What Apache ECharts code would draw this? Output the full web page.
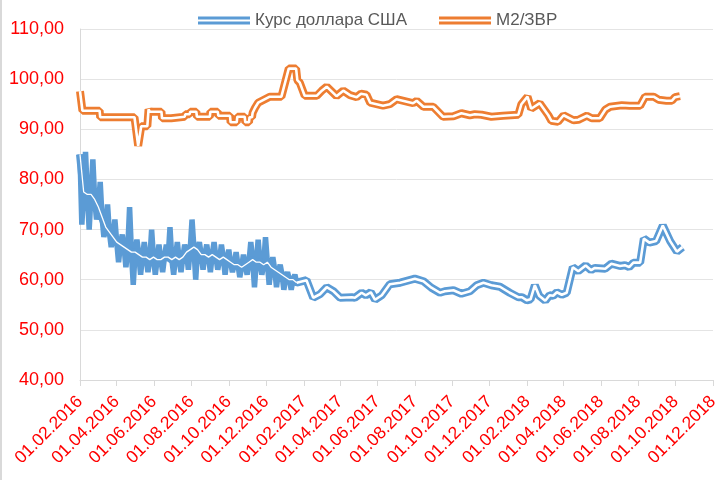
<!DOCTYPE html>
<html>
<head>
<meta charset="utf-8">
<script src="https://cdn.jsdelivr.net/npm/echarts@6/dist/echarts.min.js"></script>
<style>html,body{margin:0;padding:0;background:#fff}#c{width:716px;height:480px}</style>
</head>
<body>
<div id="c"></div>
<script>
// ---- DATA ----
const seriesNames = ['Курс доллара США', 'М2/ЗВР'];

// USD rate 2016: central readings (every 6 days)
const usdTrendDates2016 = [
'2016-02-01','2016-02-07','2016-02-13','2016-02-19','2016-02-25','2016-03-02','2016-03-08','2016-03-14','2016-03-20','2016-03-26',
'2016-04-01','2016-04-07','2016-04-13','2016-04-19','2016-04-25','2016-05-01','2016-05-07','2016-05-13','2016-05-19','2016-05-25',
'2016-05-31','2016-06-06','2016-06-12','2016-06-18','2016-06-24','2016-06-30','2016-07-06','2016-07-12','2016-07-18','2016-07-24',
'2016-07-30','2016-08-05','2016-08-11','2016-08-17','2016-08-23','2016-08-29','2016-09-04','2016-09-10','2016-09-16','2016-09-22',
'2016-09-28','2016-10-04','2016-10-10','2016-10-16','2016-10-22','2016-10-28','2016-11-03','2016-11-09','2016-11-15','2016-11-21',
'2016-11-27','2016-12-03','2016-12-09','2016-12-15','2016-12-21','2016-12-27','2017-01-02','2017-01-08','2017-01-14','2017-01-20'
];
const usdTrendValues2016 = [
85, 77.5, 77, 77, 76, 74.5, 72.5, 70.5, 69.5, 68.5,
67.5, 67, 66.5, 66, 65.5, 65.5, 65, 64.5, 64.5, 64,
64.5, 64, 64, 64.5, 64.5, 64, 64.5, 64, 64.5, 65.5,
66, 66.5, 66, 65, 65, 64.5, 65, 64.5, 64, 64.5,
64, 63.5, 63, 63, 62.5, 63, 63.5, 64, 63.5, 63.5,
63, 63.5, 62.5, 62, 61.5, 61, 60.5, 60, 60, 59.4
];
// USD rate 2016: in-between readings (the jagged outliers)
const usdSpikeDates2016 = [
'2016-02-04','2016-02-10','2016-02-16','2016-02-22','2016-02-28','2016-03-05','2016-03-11','2016-03-17','2016-03-23','2016-03-29',
'2016-04-04','2016-04-10','2016-04-16','2016-04-22','2016-04-28','2016-05-04','2016-05-10','2016-05-16','2016-05-22','2016-05-28',
'2016-06-03','2016-06-09','2016-06-15','2016-06-21','2016-06-27','2016-07-03','2016-07-09','2016-07-15','2016-07-21','2016-07-27',
'2016-08-02','2016-08-08','2016-08-14','2016-08-20','2016-08-26','2016-09-01','2016-09-07','2016-09-13','2016-09-19','2016-09-25',
'2016-10-01','2016-10-07','2016-10-13','2016-10-19','2016-10-25','2016-10-31','2016-11-06','2016-11-12','2016-11-18','2016-11-24',
'2016-11-30','2016-12-06','2016-12-12','2016-12-18','2016-12-24','2016-12-30','2017-01-05','2017-01-11','2017-01-17'
];
const usdSpikeValues2016 = [
71, 85.5, 70, 84, 72, 79.5, 68.5, 75, 66.5, 72,
63.5, 69, 62.5, 74.5, 59, 68, 61, 67.5, 61.5, 70,
61, 67, 61.5, 67, 70.5, 61, 67.5, 61.5, 67, 62,
72, 60, 67.5, 62, 67, 61.5, 67.5, 62, 67, 61,
66, 61.5, 65.5, 60.5, 65, 61, 67.5, 58.5, 68, 61,
68.5, 59, 64.5, 58.5, 63, 58, 61.5, 58, 61
];

// USD rate, 2017-2018
const usdDates1718 = [
'2017-02-05','2017-02-16','2017-02-27','2017-03-10','2017-03-21','2017-04-01','2017-04-20','2017-04-25','2017-05-06','2017-05-13',
'2017-05-21','2017-05-28','2017-06-08','2017-06-21','2017-07-08','2017-08-01','2017-08-15','2017-08-28','2017-09-11','2017-09-19',
'2017-10-03','2017-10-16','2017-10-30','2017-11-10','2017-11-21','2017-12-04','2017-12-18','2018-01-03','2018-01-17','2018-01-23',
'2018-01-31','2018-02-06','2018-02-13','2018-02-20','2018-03-02','2018-03-09','2018-03-15','2018-03-21','2018-03-29','2018-04-06',
'2018-04-16','2018-04-25','2018-05-07','2018-05-16','2018-05-22','2018-06-08','2018-06-18','2018-07-02','2018-07-10','2018-07-17',
'2018-07-24','2018-08-04','2018-08-10','2018-08-19','2018-08-30','2018-09-10','2018-09-22','2018-10-03','2018-10-12'
];
const usdValues1718 = [
59.9, 56.4, 57.1, 58.5, 57.7, 56.4, 56.5, 56.4, 57.4, 56.9,
57.5, 56.0, 56.9, 59.1, 59.4, 60.2, 59.7, 58.4, 57.4, 57.7,
57.9, 57.2, 57.7, 58.9, 59.4, 58.9, 58.6, 57.4, 56.5, 56.5,
55.9, 56.1, 58.9, 56.8, 55.8, 56.9, 56.8, 57.5, 57.0, 57.4,
62.5, 61.7, 62.85, 61.9, 62.35, 62.2, 63.2, 62.75, 62.9, 62.5,
63.4, 63.4, 68.2, 67.4, 67.7, 70.8, 67.7, 65.6, 66.5
];

// M2 / reserves
const m2Dates = [
'2016-02-01','2016-02-05','2016-03-04','2016-03-05','2016-04-30','2016-05-06','2016-05-11','2016-05-21','2016-05-23','2016-05-25',
'2016-06-13','2016-06-14','2016-06-29','2016-06-30','2016-07-21','2016-07-22','2016-07-29','2016-07-30','2016-08-09','2016-08-10',
'2016-08-31','2016-09-01','2016-09-13','2016-09-14','2016-10-03','2016-10-04','2016-10-14','2016-10-15','2016-10-27','2016-10-28',
'2016-11-03','2016-11-04','2016-11-08','2016-11-09','2016-11-13','2016-11-18','2016-11-20','2016-12-07','2016-12-26','2017-01-07',
'2017-01-19','2017-01-21','2017-01-25','2017-02-02',
'2017-02-22','2017-03-02','2017-03-10','2017-03-26','2017-04-06','2017-04-17','2017-04-28','2017-05-05','2017-05-14','2017-05-20',
'2017-06-10','2017-06-21','2017-07-02','2017-07-29','2017-08-04','2017-08-15','2017-08-31','2017-09-16','2017-10-03','2017-10-16',
'2017-10-30','2017-11-07','2017-11-18','2017-12-04','2017-12-23','2018-01-17','2018-01-22','2018-02-01','2018-02-07','2018-02-21',
'2018-03-07','2018-03-12','2018-03-23','2018-04-01','2018-04-17','2018-04-25','2018-05-09','2018-05-17','2018-05-30','2018-06-08',
'2018-06-16','2018-07-05','2018-07-18','2018-08-04','2018-08-12','2018-08-26','2018-09-03','2018-09-16','2018-09-25','2018-09-30',
'2018-10-08'
];
const m2Values = [
97.6, 93.7, 93.7, 92.4, 92.4, 86.7, 90.6, 90.6, 94.0, 93.5,
93.5, 92.2, 92.2, 92.5, 92.5, 93.0, 93.0, 93.5, 93.5, 92.5,
92.5, 93.5, 93.5, 92.7, 92.7, 91.4, 91.4, 92.5, 92.5, 91.4,
91.4, 92.4, 92.4, 93.3, 94.3, 95.3, 95.6, 96.5, 96.5, 102.1,
102.1, 99.8, 99.3, 96.7,
96.7, 97.7, 98.5, 96.6, 97.7, 96.8, 96.4, 97.1, 96.9, 95.3,
94.7, 95.0, 96.0, 95.2, 95.7, 94.5, 94.5, 92.5, 92.6, 93.2,
92.8, 93.0, 92.9, 92.5, 92.7, 92.9, 95.0, 96.5, 94.1, 95.2,
92.8, 91.7, 91.5, 92.8, 91.8, 91.9, 92.7, 92.2, 92.2, 93.9,
94.5, 94.8, 94.7, 94.7, 96.5, 96.5, 95.9, 95.7, 95.7, 96.4,
96.6
];

// Axis ticks
const xTickDates = ['2016-02-01','2016-04-01','2016-06-01','2016-08-01','2016-10-01','2016-12-01',
  '2017-02-01','2017-04-01','2017-06-01','2017-08-01','2017-10-01','2017-12-01',
  '2018-02-01','2018-04-01','2018-06-01','2018-08-01','2018-10-01','2018-12-01'];
const yMin = 40, yMax = 110, yStep = 10;

// ---- BUILD ----
function ts(s){ const p = s.split('-'); return Date.UTC(+p[0], +p[1]-1, +p[2]); }
function zip(d, v){ return d.map((x,i)=>[ts(x), v[i]]); }
const usdTrend = zip(usdTrendDates2016, usdTrendValues2016);
const usdLater = [usdTrend[usdTrend.length-1]].concat(zip(usdDates1718, usdValues1718));
const usdMain = usdTrend.concat(usdLater.slice(1));
const usdJagged = usdTrend.concat(zip(usdSpikeDates2016, usdSpikeValues2016)).sort((a,b)=>a[0]-b[0]);
const m2Data = zip(m2Dates, m2Values);
const tickTs = xTickDates.map(ts);
const pad = n => (n<10?'0':'')+n;
const FONT = 'Liberation Sans, Arial, sans-serif';
const BLUE = '#5B9BD5', ORANGE = '#ED7D31';
const OUTER = 8, INNER = 2.6;
const icon = 'path://M0,0L52,0L52,3L0,3Z M0,5L52,5L52,8L0,8Z';

function lineSeries(name, data, color, width, z){
  return { name, type:'line', data, showSymbol:false, symbol:'none', z, silent:true,
    lineStyle:{ color, width, join:'bevel', cap:'butt' }, itemStyle:{color}, emphasis:{disabled:true} };
}

const chart = echarts.init(document.getElementById('c'), null, {renderer:'canvas'});
chart.setOption({
  animation:false,
  backgroundColor:'#fff',
  graphic:[{type:'rect', left:0, top:0, shape:{width:2, height:480}, style:{fill:'#D9D9D9'}, silent:true}],
  legend:{
    data:seriesNames, left:193, top:7, itemWidth:52, itemHeight:8, itemGap:32,
    icon, textStyle:{color:'#595959', fontSize:17, fontFamily:FONT}
  },
  grid:{ left:80, right:3, top:29, bottom:100, containLabel:false, outerBoundsMode:'none' },
  xAxis:{
    type:'value', min:ts('2016-02-01'), max:ts('2018-12-01'), scale:true,
    axisLine:{show:true, lineStyle:{color:'#D9D9D9', width:1}},
    axisTick:{show:true, customValues:tickTs, length:6, lineStyle:{color:'#D9D9D9'}},
    axisLabel:{customValues:tickTs, rotate:45, margin:19, color:'#FF0000', fontSize:17.5, fontFamily:FONT,
      formatter:v=>{ const d=new Date(v); return pad(d.getUTCDate())+'.'+pad(d.getUTCMonth()+1)+'.'+d.getUTCFullYear(); } },
    splitLine:{show:false}
  },
  yAxis:{
    type:'value', min:yMin, max:yMax, interval:yStep,
    axisLine:{show:true, lineStyle:{color:'#D9D9D9'}},
    axisTick:{show:false},
    axisLabel:{color:'#FF0000', fontSize:18, fontFamily:FONT, margin:16,
      formatter:v=>v.toFixed(2).replace('.',',')},
    splitLine:{lineStyle:{color:'#E4E4E4', width:1}}
  },
  series:[
    lineSeries('usd-jagged', usdJagged, BLUE, 5.5, 1),
    lineSeries(seriesNames[0], usdMain, BLUE, OUTER, 2),
    lineSeries('usd-inner-2016', usdTrend, '#FFFFFF', 1.3, 3),
    lineSeries('usd-inner', usdLater, '#FFFFFF', INNER, 3),
    lineSeries(seriesNames[1], m2Data, ORANGE, OUTER, 4),
    lineSeries('m2-inner', m2Data, '#FFFFFF', INNER, 5)
  ]
});
</script>
</body>
</html>
